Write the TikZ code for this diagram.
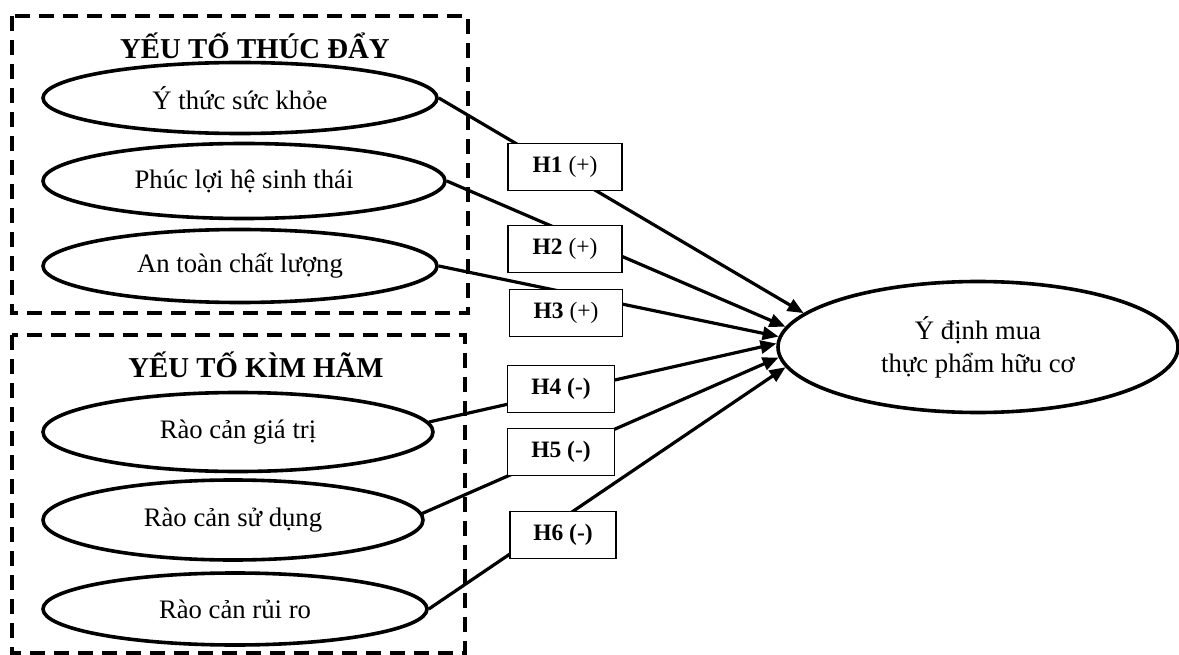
\documentclass[tikz,border=0pt]{standalone}
\usepackage{fontspec}
\setmainfont{Liberation Serif}
\usetikzlibrary{shapes.geometric,arrows.meta}
\begin{document}
\begin{tikzpicture}[x=1pt,y=-1pt,
  grp/.style={draw,line width=3.6pt,dash pattern=on 15pt off 9pt},
  grptitle/.style={font=\fontsize{28.8}{34}\selectfont\bfseries},
  factor/.style={draw,ellipse,line width=3.6pt,inner sep=0pt,font=\fontsize{26.7}{32}\selectfont},
  hyp/.style={draw,fill=white,line width=1.3pt,inner sep=0pt,minimum height=47pt,font=\fontsize{23.5}{28}\selectfont},
  link/.style={line width=3.2pt,-{Triangle[length=16pt,width=13pt]}}]
\useasboundingbox (0,0) rectangle (1179,655);
% group frames
\draw[grp] (12,16) rectangle (468,313);
\draw[grp] (12,335) rectangle (465,653);
\node[grptitle] (t1) at (255,46) {YẾU TỐ THÚC ĐẨY};
\node[grptitle] (t2) at (256,365) {YẾU TỐ KÌM HÃM};
% factors
\node[factor,minimum width=394pt,minimum height=71pt] (e1) at (240,98) {Ý thức sức khỏe};
\node[factor,minimum width=402pt,minimum height=75pt] (e2) at (244,181) {Phúc lợi hệ sinh thái};
\node[factor,minimum width=394pt,minimum height=73pt] (e3) at (240,266) {An toàn chất lượng};
\node[factor,minimum width=390pt,minimum height=79pt] (e4) at (238,432) {Rào cản giá trị};
\node[factor,minimum width=380pt,minimum height=80pt] (e5) at (233,520) {Rào cản sử dụng};
\node[factor,minimum width=384pt,minimum height=72pt] (e6) at (235,609) {Rào cản rủi ro};
% outcome
\node[factor,minimum width=400pt,minimum height=131pt,align=center] (tgt) at (978,347) {Ý định mua\\[1pt]thực phẩm hữu cơ};
% links
\draw[link] (e1.east) -- (tgt.169.7);
\draw[link] (e2.east) -- (tgt.174.4);
\draw[link] (e3.east) -- (tgt.177.1);
\draw[link] (e4.3) -- (tgt.179.4);
\draw[link] (e5.2) -- (tgt.183.2);
\draw[link] (e6.east) -- (tgt.186);
% hypothesis labels
\node[hyp,minimum width=114pt] (h1) at (565,167) {\textbf{H1} (+)};
\node[hyp,minimum width=114pt] (h2) at (565,249) {\textbf{H2} (+)};
\node[hyp,minimum width=113pt] (h3) at (566,313) {\textbf{H3} (+)};
\node[hyp,minimum width=107pt] (h4) at (561,389) {\textbf{H4 (-)}};
\node[hyp,minimum width=107pt] (h5) at (561,452) {\textbf{H5 (-)}};
\node[hyp,minimum width=106pt] (h6) at (563,535) {\textbf{H6 (-)}};
\end{tikzpicture}
\end{document}
